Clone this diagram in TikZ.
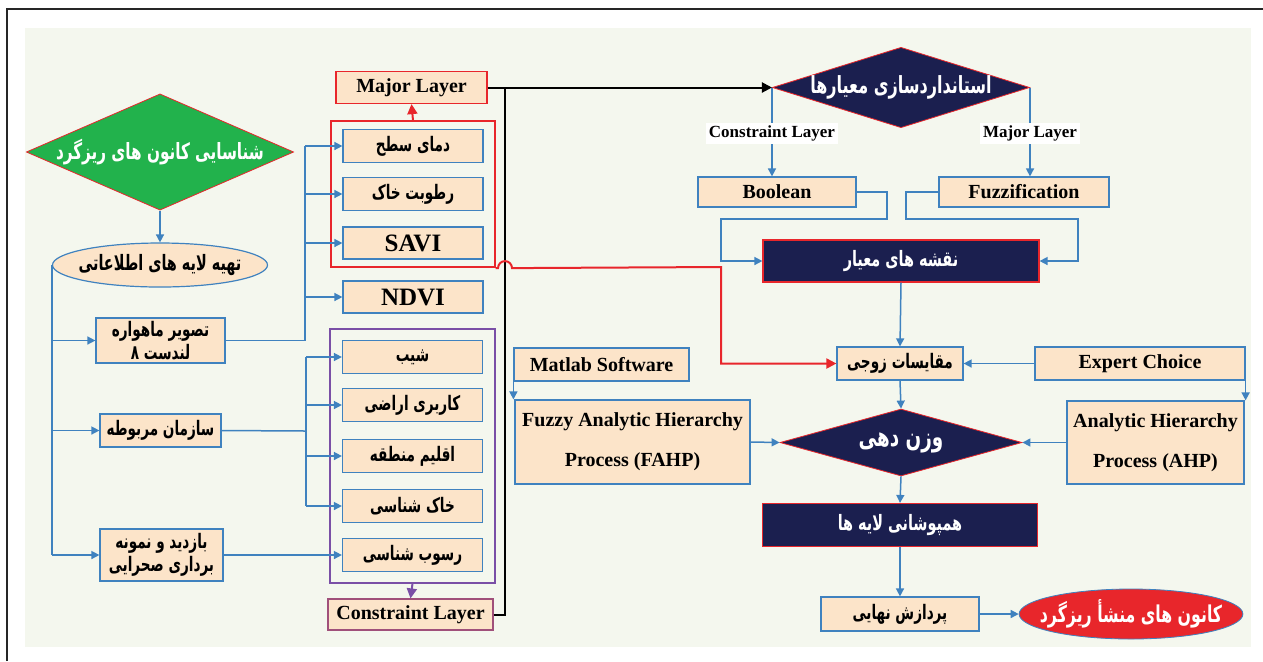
\documentclass[tikz,border=0pt]{standalone}
\usepackage{fontspec}
\setmainfont{Liberation Serif}
\newfontfamily\persianfont[Script=Arabic, FakeStretch=0.68]{DejaVu Sans}
\TeXXeTstate=1
\usetikzlibrary{shapes.geometric,arrows.meta,fit,calc}
\newcommand{\rl}[1]{\beginR#1\endR}
\definecolor{bgcol}{HTML}{F4F7EE}
\definecolor{peach}{HTML}{FCE4C9}
\definecolor{bluecol}{HTML}{3F82BF}
\definecolor{navy}{HTML}{1B1F4F}
\definecolor{greencol}{HTML}{22B24C}
\definecolor{redcol}{HTML}{E8262B}
\definecolor{purplecol}{HTML}{7A4FA6}
\definecolor{mauve}{HTML}{A0507A}

\begin{document}
\begin{tikzpicture}[x=0.5pt, y=-0.5pt,
  box/.style={rectangle, draw=bluecol, line width=0.6pt, fill=peach, inner sep=1pt,
    font=\bfseries\fontsize{10}{12}\selectfont},
  fabox/.style={box, font=\persianfont\bfseries\fontsize{10}{11.5}\selectfont},
  item/.style={fabox, minimum width=70pt, minimum height=16.5pt},
  navybox/.style={rectangle, draw=redcol, line width=0.6pt, fill=navy, text=white,
    font=\persianfont\bfseries\fontsize{10.6}{12}\selectfont},
  navydiamond/.style={diamond, draw=redcol, line width=0.4pt, fill=navy, text=white,
    inner sep=0pt, font=\persianfont\bfseries\fontsize{11.8}{13}\selectfont},
  lbl/.style={fill=white, inner sep=1.5pt, font=\bfseries\fontsize{8.5}{10}\selectfont},
  link/.style={draw=bluecol, line width=0.75pt},
  wire/.style={link, -{Triangle[length=4pt,width=4pt]}},
  blackwire/.style={draw=black, line width=1pt, -{Triangle[length=5pt,width=5pt]}},
  redwire/.style={draw=redcol, line width=1pt, -{Triangle[length=5pt,width=5pt]}}
]
\useasboundingbox (0,0) rectangle (1263,661);

% Frame and background
\fill[bgcol] (25,28) rectangle (1251,647);
\draw[line width=1.3pt, black!85] (7,661) -- (7,9) -- (1263,9);

% Left column
\node[diamond, draw=redcol, line width=0.4pt, fill=greencol, text=white, inner sep=0pt,
  shape aspect=2.3, minimum width=130pt, minimum height=56pt,
  font=\persianfont\bfseries\fontsize{11.2}{13}\selectfont] (goal) at (160,152)
  {\rl{شناسایی کانون های ریزگرد}};
\node[ellipse, draw=bluecol, line width=0.6pt, fill=peach, inner sep=0pt, inner xsep=-5pt,
  minimum width=107.5pt, minimum height=22pt,
  font=\persianfont\bfseries\fontsize{10.6}{12}\selectfont] (info) at (160,265)
  {\rl{تهیه لایه های اطلاعاتی}};
\node[fabox, align=center, minimum width=64.5pt, minimum height=22.5pt] (sat) at (160.5,340.5)
  {\rl{تصویر ماهواره}\\\rl{لندست ۸}};
\node[fabox, minimum width=60.5pt, minimum height=16.5pt] (org) at (160.5,430.5)
  {\rl{سازمان مربوطه}};
\node[fabox, align=center, minimum width=61.5pt, minimum height=26pt] (field) at (161.5,555)
  {\rl{بازدید و نمونه}\\\rl{برداری صحرایی}};

% Major layer group
\node[item] (lst) at (413,146) {\rl{دمای سطح}};
\node[item] (moist) at (413,194) {\rl{رطوبت خاک}};
\node[item, font=\bfseries\fontsize{12.5}{14}\selectfont, minimum height=16pt] (savi) at (413,243) {SAVI};
\node[item, font=\bfseries\fontsize{12.5}{14}\selectfont, minimum height=16pt] (ndvi) at (413,297) {NDVI};
\node[draw=redcol, line width=1pt, inner xsep=5.5pt, inner ysep=3.75pt, fit=(lst)(savi)] (redframe) {};
\node[box, draw=redcol, minimum width=75.5pt, minimum height=16pt] (major) at (411.5,87.5) {Major Layer};

% Constraint layer group
\node[item] (slope) at (412.5,357) {\rl{شیب}};
\node[item] (landuse) at (412.5,405) {\rl{کاربری اراضی}};
\node[item] (climate) at (412.5,456) {\rl{اقلیم منطقه}};
\node[item] (soil) at (412.5,506) {\rl{خاک شناسی}};
\node[item] (sed) at (412.5,555) {\rl{رسوب شناسی}};
\node[draw=purplecol, line width=1pt, inner xsep=5.75pt, inner ysep=5.25pt, fit=(slope)(sed)] (purpleframe) {};
\node[box, draw=mauve, minimum width=82.5pt, minimum height=15.5pt] (constraint) at (410.5,614.5) {Constraint Layer};

% Right part
\node[navydiamond, shape aspect=3.2, minimum width=124pt, minimum height=38.5pt] (std) at (901,87.5)
  {\rl{استانداردسازی معیارها}};
\node[box, minimum width=79pt, minimum height=15pt] (bool) at (777,192) {Boolean};
\node[box, minimum width=85pt, minimum height=15pt] (fuzz) at (1024,192) {Fuzzification};
\node[navybox, minimum width=138pt, minimum height=21pt] (maps) at (901,261) {\rl{نقشه های معیار}};
\node[fabox, minimum width=63pt, minimum height=16.5pt] (pair) at (900,363.5) {\rl{مقایسات زوجی}};
\node[box, minimum width=105pt, minimum height=16.5pt] (ec) at (1140,363.5) {Expert Choice};
\node[box, minimum width=87.5pt, minimum height=16.5pt] (matlab) at (601.5,364.5) {Matlab Software};
\node[box, align=center, minimum width=117.5pt, minimum height=42pt] (fahp) at (632.5,442)
  {Fuzzy Analytic Hierarchy\\[8pt]Process (FAHP)};
\node[box, align=center, minimum width=88.5pt, minimum height=41.5pt] (ahp) at (1155.5,442.5)
  {Analytic Hierarchy\\[8pt]Process (AHP)};
\node[navydiamond, shape aspect=3.6, minimum width=121pt, minimum height=33.5pt,
  font=\persianfont\bfseries\fontsize{13.5}{15}\selectfont] (weight) at (901,442.5) {\rl{وزن دهی}};
\node[navybox, minimum width=137.5pt, minimum height=21.5pt] (overlay) at (900,525) {\rl{همپوشانی لایه ها}};
\node[fabox, minimum width=79pt, minimum height=17pt] (final) at (900,614) {\rl{پردازش نهایی}};
\node[ellipse, draw=bluecol, line width=0.4pt, fill=redcol, text=white, inner sep=0pt, inner xsep=-6pt,
  minimum width=111pt, minimum height=25pt,
  font=\persianfont\bfseries\fontsize{11.6}{13}\selectfont] (out) at (1131,614)
  {\rl{کانون های منشأ ریزگرد}};

% Junctions
\coordinate (j1) at (305,146);
\coordinate (j2) at (306,431);
\coordinate (j3) at (505,87.5);
\coordinate (r1) at (721,267);
\coordinate (b1) at (887,219);
\coordinate (b2) at (721,219);
\coordinate (f1) at (906,219);
\coordinate (f2) at (1078,219);

% Left wires
\draw[wire] (goal.south) -- (info.north);
\draw[link] (info.west) -- (info.west |- field.west);
\foreach \n in {sat,org,field} \draw[wire] (info.west |- \n.west) -- (\n.west);
\draw[link] (sat.east) -| (j1);
\foreach \n in {lst,moist,savi,ndvi} \draw[wire] (j1 |- \n.west) -- (\n.west);
\draw[link] (org.east) -- (j2);
\draw[link] (j2 |- slope.west) -- (j2 |- soil.west);
\foreach \n in {slope,landuse,climate,soil} \draw[wire] (j2 |- \n.west) -- (\n.west);
\draw[wire] (field.east) -- (sed.west);

% Layer groups
\draw[draw=redcol, line width=1pt, -{Triangle[length=5pt,width=5pt]}] (redframe.north) -- (major.south);
\draw[draw=purplecol, line width=1pt, -{Triangle[length=5pt,width=5pt]}] (purpleframe.south) -- (constraint.north);
\draw[blackwire] (major.east) -- (std.west);
\draw[draw=black, line width=1pt] (constraint.east) -| (j3);
\draw[redwire] (redframe.south east) -- ($(j3 |- redframe.south)+(-7,0)$)
  arc[start angle=180, end angle=0, radius=3.5pt] -- (r1) |- (pair.west);

% Right wires
\draw[wire] (std.west) -- node[lbl, pos=0.52] {Constraint Layer} (std.west |- bool.north);
\draw[wire] (std.east) -- node[lbl, pos=0.52] {Major Layer} (std.east |- fuzz.north);
\draw[wire] (bool.east) -| (b1) -- (b2) |- (maps.west);
\draw[wire] (fuzz.west) -| (f1) -- (f2) |- (maps.east);
\draw[wire] (maps.south) -- (pair.north);
\draw[wire] (ec.west) -- (pair.east);
\draw[wire] (ec.east) -- (ec.east |- ahp.north);
\draw[wire] (matlab.west) -- (matlab.west |- fahp.north);
\draw[wire] (fahp.east) -- (weight.west);
\draw[wire] (ahp.west) -- (weight.east);
\draw[wire] (pair.south) -- (weight.north);
\draw[wire] (weight.south) -- (overlay.north);
\draw[wire] (overlay.south) -- (final.north);
\draw[wire] (final.east) -- (out.west);

\end{tikzpicture}
\end{document}
